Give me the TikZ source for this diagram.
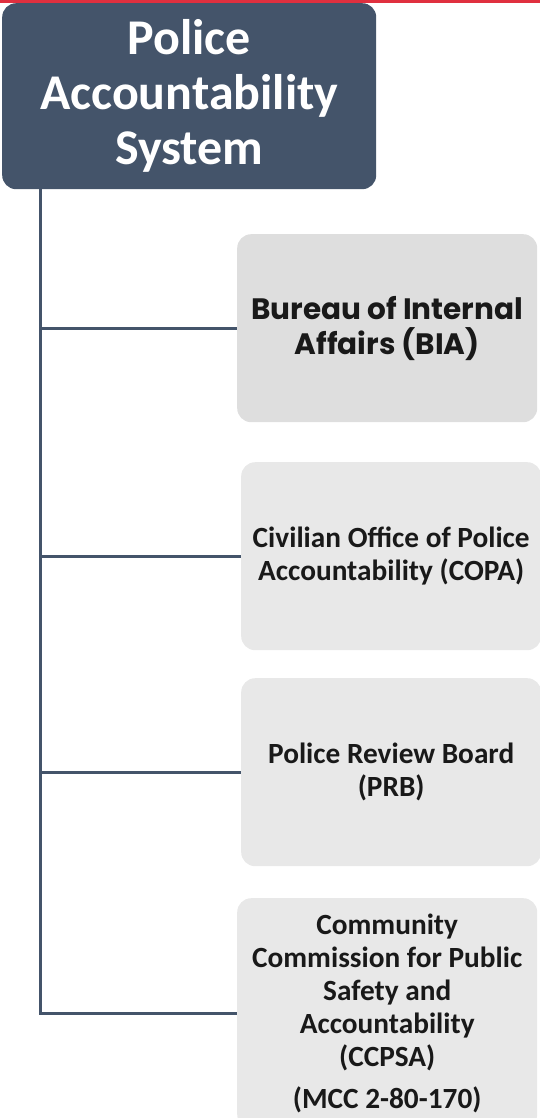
\documentclass[tikz,border=0pt]{standalone}
\usepackage{fontspec}
\setmainfont{Carlito}
\newfontfamily\gothicfont{Poppins}
\usetikzlibrary{positioning}

\definecolor{slate}{HTML}{44546A}
\definecolor{biagray}{HTML}{DEDEDE}
\definecolor{unitgray}{HTML}{E8E8E8}
\definecolor{slidered}{HTML}{E0303F}

\begin{document}
\begin{tikzpicture}[x=1pt, y=-1pt,
    root/.style={rectangle, rounded corners=14pt, fill=slate, text=white, align=center, inner sep=0pt,
        minimum width=374pt, minimum height=186pt, font=\bfseries\fontsize{50}{55}\selectfont},
    unit/.style={rectangle, rounded corners=14pt, fill=unitgray, text=black!90, align=center, inner sep=0pt,
        minimum width=300pt, minimum height=188pt, font=\bfseries\fontsize{29.3}{33}\selectfont},
    link/.style={draw=slate, line width=3pt}]

    \useasboundingbox (0,0) rectangle (540,1118);
    \clip (0,0) rectangle (540,1118);

    % slide border
    \fill[slidered] (0,0) rectangle (540,3);

    \node[root, anchor=north west] (system) at (2,3) {Police\\Accountability\\System};

    \node[unit, anchor=north west, fill=biagray, font=\gothicfont\bfseries\fontsize{29.5}{35}\selectfont] (bia) at (237,234) {Bureau of Internal\\Affairs (BIA)};
    \node[unit, anchor=north west] (copa) at (241,462) {Civilian Office of Police\\Accountability (COPA)};
    \node[unit, anchor=north west] (prb) at (241,678) {Police Review Board\\(PRB)};
    \node[unit, anchor=north west, minimum height=230pt] (ccpsa) at (237,898) {Community\\Commission for Public\\Safety and\\Accountability\\(CCPSA)\\[9pt](MCC 2-80-170)};

    \coordinate (trunk) at ([xshift=38pt]system.south west);

    \draw[link] (trunk) |- (ccpsa.west);
    \draw[link] (trunk |- bia.west) -- (bia.west);
    \draw[link] (trunk |- copa.west) -- (copa.west);
    \draw[link] (trunk |- prb.west) -- (prb.west);

\end{tikzpicture}
\end{document}
